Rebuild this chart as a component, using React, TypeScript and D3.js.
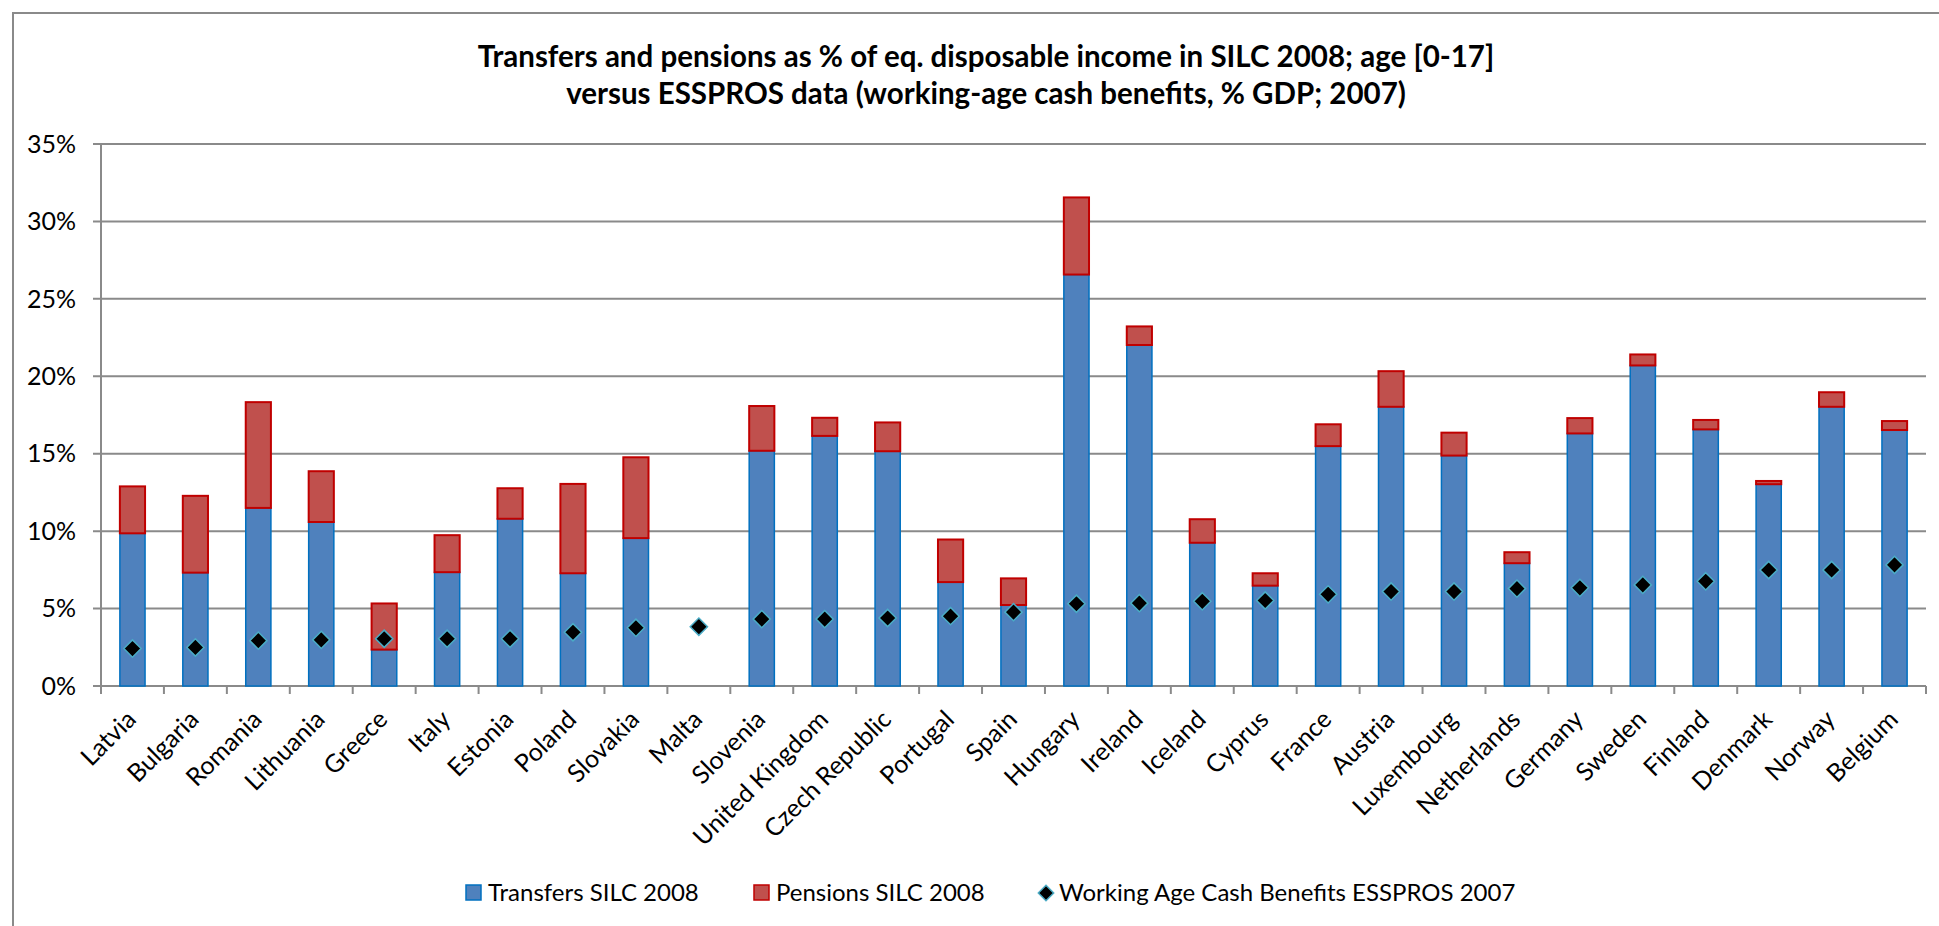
import React from "react";
import * as d3 from "d3";

const countries = [
  "Latvia", "Bulgaria", "Romania", "Lithuania", "Greece", "Italy", "Estonia", "Poland",
  "Slovakia", "Malta", "Slovenia", "United Kingdom", "Czech Republic", "Portugal", "Spain",
  "Hungary", "Ireland", "Iceland", "Cyprus", "France", "Austria", "Luxembourg", "Netherlands",
  "Germany", "Sweden", "Finland", "Denmark", "Norway", "Belgium",
];

// % of equivalised disposable income
const transfers: (number | null)[] = [
  9.86, 7.32, 11.5, 10.59, 2.35, 7.35, 10.8, 7.28, 9.55, null, 15.19, 16.15, 15.16, 6.71, 5.23,
  26.57, 22.02, 9.25, 6.48, 15.49, 18.03, 14.88, 7.93, 16.31, 20.7, 16.57, 13.03, 18.03, 16.53,
];
const pensions: (number | null)[] = [
  3.03, 4.96, 6.83, 3.28, 2.98, 2.39, 1.97, 5.77, 5.22, null, 2.89, 1.17, 1.86, 2.75, 1.72,
  4.98, 1.2, 1.52, 0.8, 1.41, 2.3, 1.48, 0.71, 0.99, 0.71, 0.61, 0.21, 0.94, 0.58,
];
// % GDP
const esspros: number[] = [
  2.42, 2.49, 2.93, 2.98, 3.05, 3.05, 3.05, 3.47, 3.76, 3.83, 4.32, 4.32, 4.39, 4.51, 4.77,
  5.31, 5.35, 5.47, 5.52, 5.92, 6.1, 6.1, 6.29, 6.34, 6.53, 6.76, 7.49, 7.49, 7.82,
];
const yTicks = [0, 5, 10, 15, 20, 25, 30, 35];
const titleLines = [
  "Transfers and pensions as % of eq. disposable income in SILC 2008; age [0-17]",
  "versus ESSPROS data (working-age cash benefits, % GDP; 2007)",
];
const legendLabels = [
  "Transfers SILC 2008",
  "Pensions SILC 2008",
  "Working Age Cash Benefits ESSPROS 2007",
];

const W = 1939;
const H = 926;
const FONT = "Lato, 'Open Sans', sans-serif";
const GRID = "#8a8a8a";
const BLUE = "#4f81bd";
const BLUE_S = "#0070c0";
const RED = "#c0504d";
const RED_S = "#c00000";
const CYAN = "#4bacc6";

export default function App() {
  const left = 101;
  const right = 1926;
  const top = 144;
  const bottom = 686;

  const x = d3.scaleBand<string>().domain(countries).range([left, right]).padding(0);
  const y = d3.scaleLinear().domain([0, 35]).range([bottom, top]);
  const bw = x.step() * 0.4;
  const diamond = d3.symbol().type(d3.symbolDiamond2).size(190)();
  const diamondLegend = d3.symbol().type(d3.symbolDiamond2).size(150)();

  const legendY = 893;

  return (
    <svg
      width={W}
      height={H}
      style={{ position: "absolute", left: 0, top: 0, display: "block", background: "#fff" }}
      fontFamily={FONT}
    >
      <rect x={13} y={13} width={W + 40} height={H + 40} fill="#fff" stroke={GRID} strokeWidth={2} />

      {titleLines.map((t, i) => (
        <text
          key={i}
          x={986}
          y={67 + i * 37}
          textAnchor="middle"
          fontWeight="bold"
          fontSize={29.5}
          fill="#000"
        >
          {t}
        </text>
      ))}

      {/* gridlines */}
      {yTicks.map((v) => (
        <line key={v} x1={left - 8} x2={right} y1={y(v)} y2={y(v)} stroke={GRID} strokeWidth={2} />
      ))}
      {/* y axis */}
      <line x1={left} x2={left} y1={top} y2={bottom} stroke={GRID} strokeWidth={2} />
      {yTicks.map((v) => (
        <text key={v} x={76} y={y(v)} dy="0.35em" textAnchor="end" fontSize={25} fill="#000">
          {v}%
        </text>
      ))}

      {/* x axis ticks */}
      {d3.range(countries.length + 1).map((i) => (
        <line
          key={i}
          x1={left + i * x.step()}
          x2={left + i * x.step()}
          y1={bottom}
          y2={bottom + 8}
          stroke={GRID}
          strokeWidth={2}
        />
      ))}

      {/* bars */}
      {countries.map((c, i) => {
        const t = transfers[i];
        const p = pensions[i];
        if (t == null) return null;
        const cx = (x(c) as number) + x.step() / 2;
        return (
          <g key={c}>
            <rect
              x={cx - bw / 2}
              y={y(t)}
              width={bw}
              height={y(0) - y(t)}
              fill={BLUE}
              stroke={BLUE_S}
              strokeWidth={1.5}
            />
            {p != null && (
              <rect
                x={cx - bw / 2}
                y={y(t + p)}
                width={bw}
                height={y(t) - y(t + p)}
                fill={RED}
                stroke={RED_S}
                strokeWidth={2}
              />
            )}
          </g>
        );
      })}

      {/* diamonds */}
      {countries.map((c, i) => {
        const cx = (x(c) as number) + x.step() / 2;
        return (
          <path
            key={c}
            d={diamond as string}
            transform={`translate(${cx},${y(esspros[i])})`}
            fill="#000"
            stroke={CYAN}
            strokeWidth={1.5}
          />
        );
      })}

      {/* x labels */}
      {countries.map((c) => {
        const cx = (x(c) as number) + x.step() / 2;
        return (
          <text
            key={c}
            transform={`translate(${cx + 5},${bottom + 35}) rotate(-45)`}
            textAnchor="end"
            fontSize={25}
            fill="#000"
          >
            {c}
          </text>
        );
      })}

      {/* legend */}
      <rect x={466} y={legendY - 8} width={15} height={15} fill={BLUE} stroke={BLUE_S} strokeWidth={1.5} />
      <text x={488} y={legendY} dy="0.35em" fontSize={24} fill="#000">
        {legendLabels[0]}
      </text>
      <rect x={754} y={legendY - 8} width={15} height={15} fill={RED} stroke={RED_S} strokeWidth={1.5} />
      <text x={776} y={legendY} dy="0.35em" fontSize={24} fill="#000">
        {legendLabels[1]}
      </text>
      <path
        d={diamondLegend as string}
        transform={`translate(1046,${legendY})`}
        fill="#000"
        stroke={CYAN}
        strokeWidth={1.5}
      />
      <text x={1059} y={legendY} dy="0.35em" fontSize={24} fill="#000">
        {legendLabels[2]}
      </text>
    </svg>
  );
}
